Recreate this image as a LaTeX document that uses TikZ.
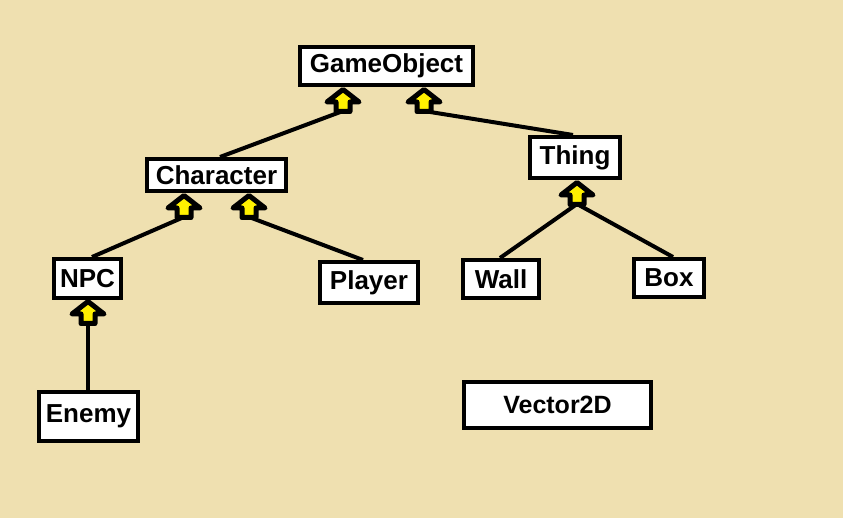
\documentclass[tikz,border=0pt]{standalone}
\usepackage{fontspec}
\setmainfont{Liberation Sans}
\definecolor{bgc}{RGB}{239,224,176}
\definecolor{ayel}{RGB}{255,240,0}
\pgfdeclarelayer{bg}
\pgfsetlayers{bg,main}
\begin{document}
\begin{tikzpicture}[x=1pt,y=-1pt,
  box/.style={draw=black, fill=white, line width=4pt, inner sep=0pt,
    font=\bfseries\fontsize{26}{30}\selectfont},
  link/.style={line width=4pt, draw=black},
  upar/.pic={\filldraw[fill=ayel,draw=black,line width=5pt,line join=round]
    (0,3.5)--(16,16)--(7,16)--(7,25.5)--(-7,25.5)--(-7,16)--(-16,16)--cycle;}]
\useasboundingbox (0,0) rectangle (843,518);
\begin{pgfonlayer}{bg}
\fill[bgc] (0,0) rectangle (843,518);
\end{pgfonlayer}

\node[box, minimum width=173pt, minimum height=38pt] (GO) at (386.5,66) {GameObject};
\node[box, minimum width=139pt, minimum height=32pt] (Ch) at (216.5,175) {Character};
\node[box, minimum width=90pt, minimum height=41pt] (Th) at (575,157.5) {Thing};
\node[box, minimum width=67pt, minimum height=39pt] (NPC) at (87.5,278.5) {NPC};
\node[box, minimum width=98pt, minimum height=41pt] (Pl) at (369,282.5) {Player};
\node[box, minimum width=76pt, minimum height=38pt] (Wa) at (501,279) {Wall};
\node[box, minimum width=70pt, minimum height=38pt] (Bx) at (669,278) {Box};
\node[box, minimum width=99pt, minimum height=49pt] (En) at (88.5,416.5) {Enemy};
\node[box, minimum width=187pt, minimum height=46pt, font=\bfseries\fontsize{25}{29}\selectfont] (V2) at (557.5,405) {Vector2D};

\pic at (343,86) {upar};
\pic at (424,86) {upar};
\pic at (184,192) {upar};
\pic at (249,192) {upar};
\pic at (577,179) {upar};
\pic at (88,298) {upar};

\coordinate (aGOl) at (343,111);
\coordinate (aGOr) at (424,111);
\coordinate (aChl) at (184,217);
\coordinate (aChr) at (249,217);
\coordinate (aTh) at (577,204);
\coordinate (aNPC) at (88,320);

\begin{pgfonlayer}{bg}
\draw[link] (aGOl) -- ([xshift=3.5pt]Ch.north);
\draw[link] (aGOr) -- ([xshift=-2pt]Th.north);
\draw[link] (aChl) -- ([xshift=4.5pt]NPC.north);
\draw[link] (aChr) -- ([xshift=-6pt]Pl.north);
\draw[link] (aTh) -- ([xshift=-1pt]Wa.north);
\draw[link] (aTh) -- ([xshift=4pt]Bx.north);
\draw[link] (aNPC) -- (aNPC |- En.north);
\end{pgfonlayer}
\end{tikzpicture}
\end{document}
